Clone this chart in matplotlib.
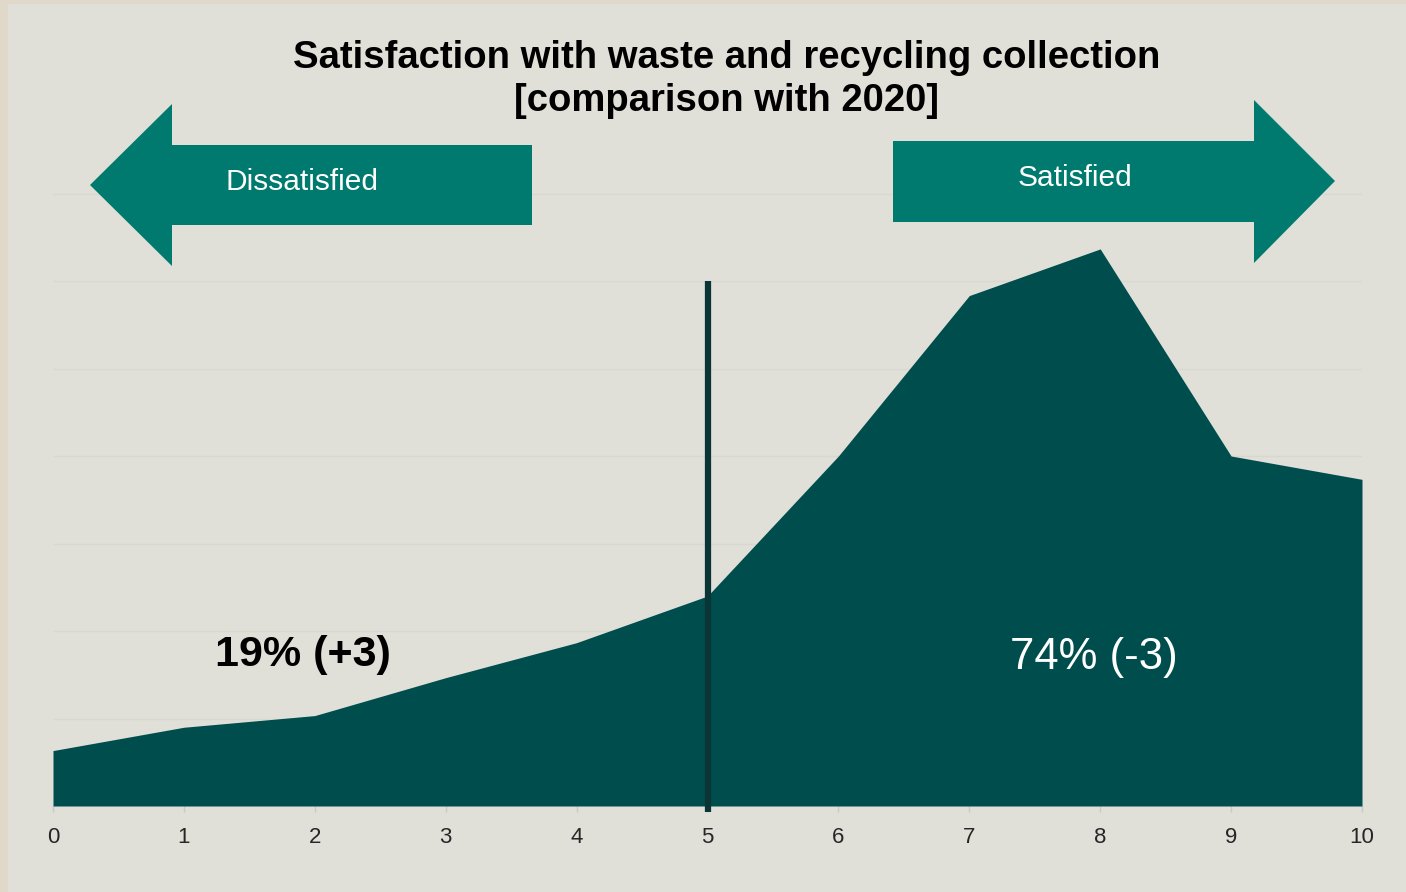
import numpy as np
import matplotlib
matplotlib.use("Agg")
import matplotlib.pyplot as plt
from matplotlib.patches import Polygon, Rectangle

plt.rcParams['font.family'] = ['Liberation Sans', 'DejaVu Sans']

# scores 0-10 and share of respondents (%)
scores = np.arange(0, 11)
share = [1.9, 2.7, 3.1, 4.4, 5.6, 7.2, 12.0, 17.5, 19.1, 12.0, 11.2]
grid_levels = [3, 6, 9, 12, 15, 18, 21]
tick_labels = [str(s) for s in scores]

title_1 = "Satisfaction with waste and recycling collection"
title_2 = "[comparison with 2020]"
label_left = "Dissatisfied"
label_right = "Satisfied"
note_left = "19% (+3)"
note_right = "74% (-3)"

W, H = 1406, 892
bg = "#e0e0d9"
border = "#e0d8c8"
area_col = "#004d4e"
arrow_col = "#007a6e"
line_col = "#0b3535"


def px(x, y):
    # pixel position -> figure fraction
    return (x / W, 1 - y / H)


fig = plt.figure(figsize=(W / 100, H / 100), dpi=100, facecolor=border)
fig.patches.append(Rectangle((8 / W, 0), 1 - 8 / W, 1 - 4 / H,
                             transform=fig.transFigure, color=bg, zorder=-5))

ax = fig.add_axes([53 / W, 1 - 806 / H, (1362 - 53) / W, 700 / H])
ax.set_facecolor("none")
ax.set_xlim(0, 10)
ax.set_ylim(0, 24)

ax.fill_between(scores, 0, share, color=area_col, lw=0, zorder=2)
ax.plot([5, 5], [-0.2, 18], color=line_col, lw=4.5, zorder=3,
        solid_capstyle="butt", clip_on=False)

ax.set_yticks(grid_levels)
ax.yaxis.grid(True, color="#d8d8d2", lw=1)
ax.tick_params(axis="y", left=False, labelleft=False)
ax.set_xticks(scores)
ax.set_xticklabels(tick_labels)
ax.tick_params(axis="x", length=4, width=1, color="#cbcbc6", pad=11,
               labelsize=16, labelcolor="#262626")
ax.set_axisbelow(True)
for s in ax.spines.values():
    s.set_visible(False)

# arrows
left_pts = [(90, 185), (172, 104), (172, 145), (532, 145),
            (532, 225), (172, 225), (172, 266)]
right_pts = [(893, 141), (1254, 141), (1254, 100), (1335, 181),
             (1254, 263), (1254, 222), (893, 222)]
for pts in (left_pts, right_pts):
    fig.patches.append(Polygon([px(*p) for p in pts], closed=True,
                               transform=fig.transFigure, color=arrow_col,
                               lw=0, zorder=1))

fig.text(*px(302, 182), label_left, color="white", fontsize=21.5,
         ha="center", va="center")
fig.text(*px(1075, 178), label_right, color="white", fontsize=21.5,
         ha="center", va="center")

fig.text(*px(727, 58), title_1, fontsize=27.5, fontweight="bold",
         ha="center", va="center", color="black")
fig.text(*px(727, 101), title_2, fontsize=27.5, fontweight="bold",
         ha="center", va="center", color="black")

fig.text(*px(303, 655), note_left, fontsize=31, fontweight="bold",
         ha="center", va="center", color="black")
fig.text(*px(1094, 657), note_right, fontsize=31.5,
         ha="center", va="center", color="white")

fig.savefig("out.png", dpi=100, facecolor=border)
